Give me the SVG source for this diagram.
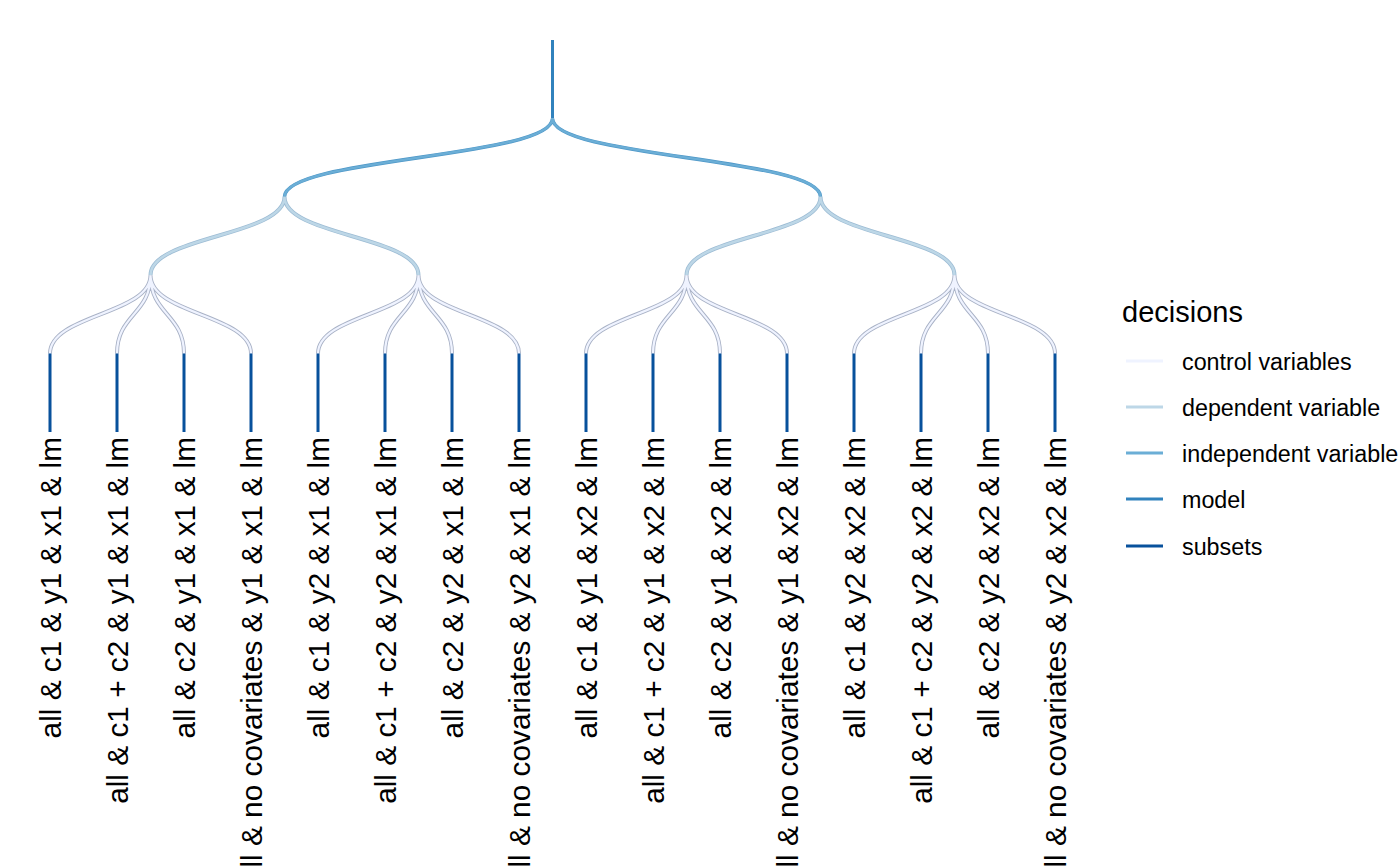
<svg xmlns="http://www.w3.org/2000/svg" width="1400" height="866" viewBox="0 0 1400 866">
<style>
text{font-family:"Liberation Sans",Arial,sans-serif;fill:#000}
.lab{font-size:29.8px;text-anchor:end}
.leg{font-size:23.3px}
.ttl{font-size:29px}
path,line{fill:none;stroke-linecap:butt}
.ctl-o{stroke:#a9b2c6;stroke-width:4}
.ctl{stroke:#EFF3FF;stroke-width:2.2}
.dep-o{stroke:#9dbcd4;stroke-width:4}
.dep{stroke:#BDD7E7;stroke-width:2.4}
.ind-o{stroke:#4f98c8;stroke-width:3.6}
.ind{stroke:#6BAED6;stroke-width:2.4}
.mod{stroke:#3182BD;stroke-width:3}
.sub{stroke:#08519C;stroke-width:3}
</style>
<rect width="1400" height="866" fill="#fff"/>
<g id="connectors">
<line class="mod" x1="552.5" y1="40" x2="552.5" y2="118.4"/>
<g id="indep">
<path class="ind-o" d="M552.5 118.4C552.5 157.6 284.5 157.6 284.5 196.8M552.5 118.4C552.5 157.6 820.5 157.6 820.5 196.8"/>
<path class="ind" d="M552.5 118.4C552.5 157.6 284.5 157.6 284.5 196.8M552.5 118.4C552.5 157.6 820.5 157.6 820.5 196.8"/>
</g>
<g id="dep">
<path class="dep-o" d="M284.5 196.8C284.5 236 150.5 236 150.5 275.2M284.5 196.8C284.5 236 418.5 236 418.5 275.2M820.5 196.8C820.5 236 686.5 236 686.5 275.2M820.5 196.8C820.5 236 954.5 236 954.5 275.2"/>
<path class="dep" d="M284.5 196.8C284.5 236 150.5 236 150.5 275.2M284.5 196.8C284.5 236 418.5 236 418.5 275.2M820.5 196.8C820.5 236 686.5 236 686.5 275.2M820.5 196.8C820.5 236 954.5 236 954.5 275.2"/>
</g>
<g id="ctl">
<path class="ctl-o" d="M150.5 275.2C150.5 314.4 50 314.4 50 353.6M150.5 275.2C150.5 314.4 117 314.4 117 353.6M150.5 275.2C150.5 314.4 184 314.4 184 353.6M150.5 275.2C150.5 314.4 251 314.4 251 353.6M418.5 275.2C418.5 314.4 318 314.4 318 353.6M418.5 275.2C418.5 314.4 385 314.4 385 353.6M418.5 275.2C418.5 314.4 452 314.4 452 353.6M418.5 275.2C418.5 314.4 519 314.4 519 353.6M686.5 275.2C686.5 314.4 586 314.4 586 353.6M686.5 275.2C686.5 314.4 653 314.4 653 353.6M686.5 275.2C686.5 314.4 720 314.4 720 353.6M686.5 275.2C686.5 314.4 787 314.4 787 353.6M954.5 275.2C954.5 314.4 854 314.4 854 353.6M954.5 275.2C954.5 314.4 921 314.4 921 353.6M954.5 275.2C954.5 314.4 988 314.4 988 353.6M954.5 275.2C954.5 314.4 1055 314.4 1055 353.6"/>
<path class="ctl" d="M150.5 275.2C150.5 314.4 50 314.4 50 353.6M150.5 275.2C150.5 314.4 117 314.4 117 353.6M150.5 275.2C150.5 314.4 184 314.4 184 353.6M150.5 275.2C150.5 314.4 251 314.4 251 353.6M418.5 275.2C418.5 314.4 318 314.4 318 353.6M418.5 275.2C418.5 314.4 385 314.4 385 353.6M418.5 275.2C418.5 314.4 452 314.4 452 353.6M418.5 275.2C418.5 314.4 519 314.4 519 353.6M686.5 275.2C686.5 314.4 586 314.4 586 353.6M686.5 275.2C686.5 314.4 653 314.4 653 353.6M686.5 275.2C686.5 314.4 720 314.4 720 353.6M686.5 275.2C686.5 314.4 787 314.4 787 353.6M954.5 275.2C954.5 314.4 854 314.4 854 353.6M954.5 275.2C954.5 314.4 921 314.4 921 353.6M954.5 275.2C954.5 314.4 988 314.4 988 353.6M954.5 275.2C954.5 314.4 1055 314.4 1055 353.6"/>
</g>
<path class="sub" d="M50 353.6V432M117 353.6V432M184 353.6V432M251 353.6V432M318 353.6V432M385 353.6V432M452 353.6V432M519 353.6V432M586 353.6V432M653 353.6V432M720 353.6V432M787 353.6V432M854 353.6V432M921 353.6V432M988 353.6V432M1055 353.6V432"/>
</g>
<g id="leaf1"><text class="lab" transform="translate(61,437) rotate(-90)">all &amp; c1 &amp; y1 &amp; x1 &amp; lm</text></g>
<g id="leaf2"><text class="lab" transform="translate(128,437) rotate(-90)">all &amp; c1 + c2 &amp; y1 &amp; x1 &amp; lm</text></g>
<g id="leaf3"><text class="lab" transform="translate(195,437) rotate(-90)">all &amp; c2 &amp; y1 &amp; x1 &amp; lm</text></g>
<g id="leaf4"><text class="lab" transform="translate(262,437) rotate(-90)">all &amp; no covariates &amp; y1 &amp; x1 &amp; lm</text></g>
<g id="leaf5"><text class="lab" transform="translate(329,437) rotate(-90)">all &amp; c1 &amp; y2 &amp; x1 &amp; lm</text></g>
<g id="leaf6"><text class="lab" transform="translate(396,437) rotate(-90)">all &amp; c1 + c2 &amp; y2 &amp; x1 &amp; lm</text></g>
<g id="leaf7"><text class="lab" transform="translate(463,437) rotate(-90)">all &amp; c2 &amp; y2 &amp; x1 &amp; lm</text></g>
<g id="leaf8"><text class="lab" transform="translate(530,437) rotate(-90)">all &amp; no covariates &amp; y2 &amp; x1 &amp; lm</text></g>
<g id="leaf9"><text class="lab" transform="translate(597,437) rotate(-90)">all &amp; c1 &amp; y1 &amp; x2 &amp; lm</text></g>
<g id="leaf10"><text class="lab" transform="translate(664,437) rotate(-90)">all &amp; c1 + c2 &amp; y1 &amp; x2 &amp; lm</text></g>
<g id="leaf11"><text class="lab" transform="translate(731,437) rotate(-90)">all &amp; c2 &amp; y1 &amp; x2 &amp; lm</text></g>
<g id="leaf12"><text class="lab" transform="translate(798,437) rotate(-90)">all &amp; no covariates &amp; y1 &amp; x2 &amp; lm</text></g>
<g id="leaf13"><text class="lab" transform="translate(865,437) rotate(-90)">all &amp; c1 &amp; y2 &amp; x2 &amp; lm</text></g>
<g id="leaf14"><text class="lab" transform="translate(932,437) rotate(-90)">all &amp; c1 + c2 &amp; y2 &amp; x2 &amp; lm</text></g>
<g id="leaf15"><text class="lab" transform="translate(999,437) rotate(-90)">all &amp; c2 &amp; y2 &amp; x2 &amp; lm</text></g>
<g id="leaf16"><text class="lab" transform="translate(1066,437) rotate(-90)">all &amp; no covariates &amp; y2 &amp; x2 &amp; lm</text></g>
<g id="legend">
<text class="ttl" x="1122" y="322">decisions</text>
<line x1="1126" y1="361" x2="1163" y2="361" stroke="#EFF3FF" stroke-width="3"/>
<text class="leg" x="1182" y="370">control variables</text>
<line x1="1126" y1="407" x2="1163" y2="407" stroke="#BDD7E7" stroke-width="3"/>
<text class="leg" x="1182" y="416">dependent variable</text>
<line x1="1126" y1="453" x2="1163" y2="453" stroke="#6BAED6" stroke-width="3"/>
<text class="leg" x="1182" y="462">independent variable</text>
<line x1="1126" y1="499" x2="1163" y2="499" stroke="#3182BD" stroke-width="3"/>
<text class="leg" x="1182" y="508">model</text>
<line x1="1126" y1="546" x2="1163" y2="546" stroke="#08519C" stroke-width="3"/>
<text class="leg" x="1182" y="555">subsets</text>
</g>
</svg>
